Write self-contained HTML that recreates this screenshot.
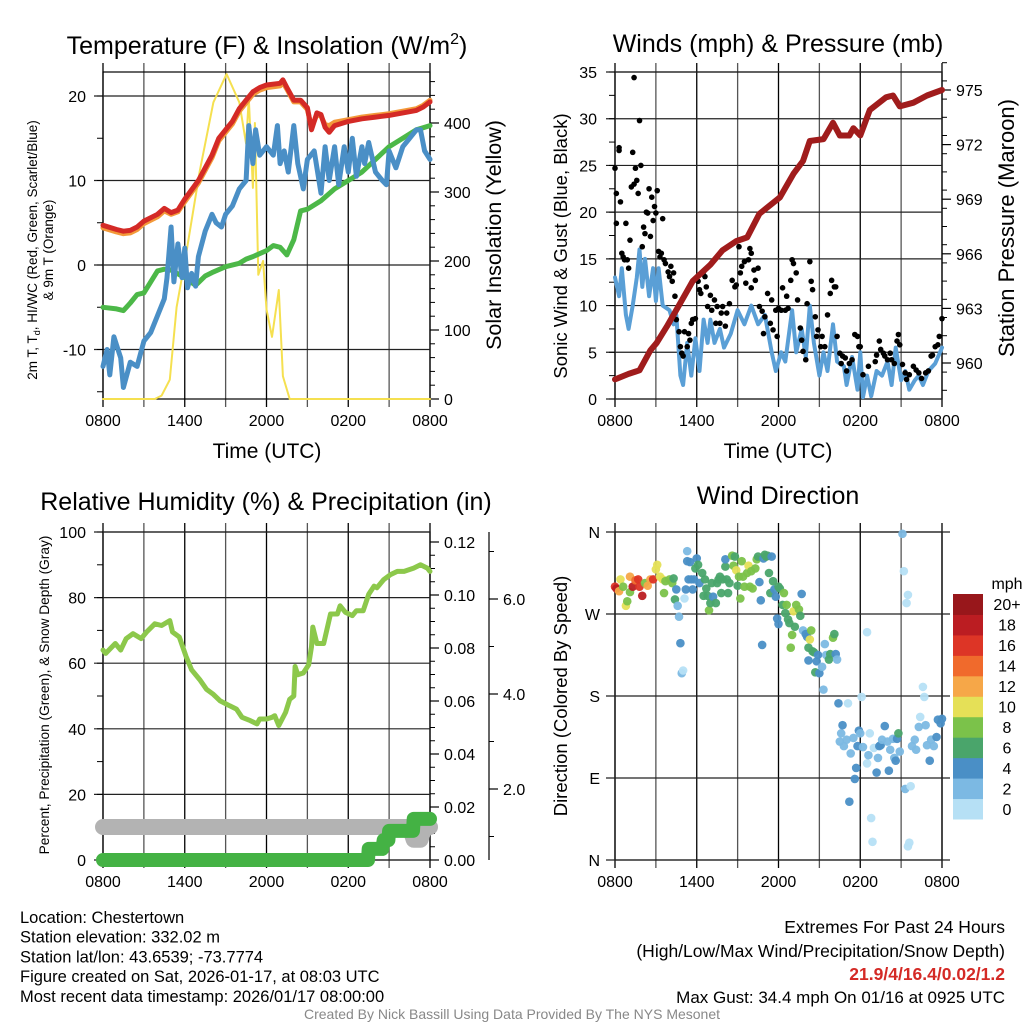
<!DOCTYPE html>
<html><head><meta charset="utf-8"><style>
body{margin:0;background:#fff;}
svg{display:block;font-family:"Liberation Sans",Arial,sans-serif;}
</style></head><body>
<svg id="s" width="1024" height="1024" viewBox="0 0 1024 1024" xmlns="http://www.w3.org/2000/svg"></svg>
<script>
// ===== Panel 1 data =====
const tempT=[0,1,1.5,2,2.5,3,4,4.5,5,5.5,6,7,8,8.5,9,9.5,10,10.5,11,11.5,12,13,13.2,13.5,14,14.5,15,15.3,15.7,16,16.3,16.6,17,18,19,20,21,22,23,23.5,24];
const tempV=[4.7,4.2,4.0,4.1,4.5,5.2,6.0,6.7,6.2,6.5,7.8,10,13,15,16,17,18.5,19.5,20.5,21,21.3,21.5,21.9,21.0,19.5,19.5,18.6,16.0,18.0,17.8,16.3,15.7,16.5,17.0,17.3,17.5,17.7,18.0,18.3,18.7,19.3];
const t9mV=[4.4,3.9,3.7,3.8,4.2,4.9,5.7,6.4,6.0,6.3,7.5,9.7,12.7,14.7,15.7,16.7,18.2,19.2,20.2,20.7,21.0,21.2,21.6,20.8,19.3,19.3,18.4,16.3,17.8,17.6,16.6,16.5,16.9,17.2,17.5,17.7,17.9,18.2,18.5,18.9,19.5];
const dewT=[0,1,1.5,2,2.5,3,3.5,4,4.5,5,6,6.8,7.5,8,9,10,10.5,11,12,12.5,13,13.5,14,14.5,15,16,17,18,19,20,21,22,23,24];
const dewV=[-5,-5.2,-5.4,-4.5,-3.5,-3.3,-2,-0.7,-0.5,-0.6,-1.5,-2.4,-1.3,-0.9,-0.2,0.2,0.7,1.0,1.7,2.3,2.1,1.2,3.0,6.4,6.6,7.6,9,10,11,12.5,14,15,16,16.5];
const wcT=[0,0.3,0.5,0.8,1,1.3,1.5,2,2.5,3,3.5,4,4.5,4.7,5,5.2,5.5,5.8,6,6.2,6.5,6.8,7,7.5,8,8.3,8.7,9,9.5,10,10.5,10.7,11,11.2,11.5,12,12.5,12.8,13,13.3,13.6,14,14.3,14.7,15,15.5,15.8,16,16.3,16.6,17,17.3,17.7,18,18.3,18.6,19,19.2,19.5,20,20.5,20.8,21,21.5,22,22.5,23,23.3,23.6,24];
const wcV=[-12,-10,-13,-8.5,-9.5,-11,-14.5,-11.5,-12,-9,-8,-6,-4,-1.5,4.5,-2,2.5,-1.5,2,-2.7,-1,-2.5,1,4,6,5,4.5,6,7,9,10,16.5,12,16,13,14,13,16.5,12,13.5,11,16.5,12,9,12.5,13.5,10.5,8.5,14,10,14,9.5,14,11,15,10.5,14,12,14.5,11,10,9.5,13.5,11.5,14,15,16,16,13.5,12.5];
const solT=[0,3.8,4.3,4.9,5.4,6.1,7.1,8.1,9.07,10,10.5,10.7,11,11.15,11.4,11.75,12,12.4,12.9,13.2,13.7,24];
const solV=[0,0,5,28,133,210,330,430,471,430,370,436,306,400,180,200,130,90,158,33,0,0];
// ===== Panel 2 data =====
const presT=[0,1,1.8,2.6,3.05,3.8,4.8,5.7,7,7.9,8.9,9.7,10.6,12.1,13.1,13.8,14.3,15.3,16,16.5,17.2,17.5,18,18.7,19.9,20.4,20.9,21.9,22.9,24];
const presV=[959.1,959.4,959.6,960.7,961.1,962,963.3,964.5,965.4,966.2,966.7,966.9,968.2,969.1,970.4,971.1,972.2,972.3,973.2,972.5,972.5,972.9,972.5,973.9,974.6,974.7,974.1,974.3,974.7,975];
const windT=[0,0.3,0.5,0.8,1,1.3,1.6,1.8,2,2.2,2.5,2.8,3,3.2,3.5,4,4.3,4.5,4.8,5,5.3,5.6,5.9,6.2,6.5,6.8,7,7.3,7.7,8,8.5,9,9.5,10,10.5,11,11.5,11.8,12.2,12.5,13,13.3,13.7,14,14.3,14.6,15,15.3,15.6,16,16.3,16.8,17,17.4,17.8,18,18.2,18.5,18.8,19.2,19.6,20,20.3,20.6,21,21.3,21.6,22,22.3,22.6,23,23.5,24];
const windV=[13,11,14,9,7.5,10,13,16,12,15,11,14,10.5,14,10,9.5,8,9,2.5,1.5,6,2.5,6.5,3,8.5,6,8.5,6,7.5,5.5,7,9.5,8,10,8,9,5,3,5,4,9.5,5,7.5,4.5,10,6,2.5,5,3,8,4,3.5,1.5,4.5,1,5,0.2,2.5,0.3,3,2.5,4,1.5,5.5,2,3,1,2,2.5,1.5,3,3.8,5.5];
const gustT=[0,0.1,0.1,0.3,0.3,0.4,0.5,0.6,0.7,0.8,0.9,1.0,1.1,1.2,1.3,1.4,1.4,1.5,1.6,1.7,1.8,1.9,2.0,2.1,2.2,2.3,2.4,2.5,2.6,2.7,2.8,2.9,3.0,3.1,3.2,3.3,3.4,3.5,3.6,3.7,3.9,4.0,4.1,4.2,4.3,4.4,4.5,4.7,4.8,4.9,5.0,5.1,5.3,5.4,5.5,5.6,5.7,5.9,6.1,6.2,6.3,6.5,6.6,6.7,6.8,7.0,7.1,7.3,7.4,7.5,7.7,7.8,7.9,8.1,8.2,8.4,8.6,8.8,8.9,9.1,9.2,9.3,9.5,9.6,9.8,9.9,10.0,10.0,10.2,10.3,10.5,10.6,10.8,10.9,11.0,11.2,11.4,11.5,11.6,11.8,11.9,12.0,12.2,12.3,12.5,12.6,12.7,12.9,13.0,13.1,13.3,13.4,13.6,13.7,13.8,14.0,14.1,14.3,14.4,14.5,14.7,14.8,14.9,15.1,15.2,15.4,15.6,15.8,15.9,16.1,16.2,16.3,16.5,16.6,16.7,16.9,17.0,17.2,17.4,17.6,17.8,17.9,18.0,18.2,18.6,19.1,19.2,19.4,19.5,19.7,19.8,20.0,20.2,20.3,20.5,20.7,20.8,20.9,21.1,21.3,21.4,21.6,21.9,22.1,22.3,22.5,22.8,23.0,23.2,23.3,23.5,23.7,23.8,24.0];
const gustV=[24.7,18.8,22,26.6,26.9,21.1,15.6,15.2,14.9,18.8,14.9,14,17,22.7,26.4,34.4,23,24.7,23.4,22,29.8,25,16.3,18.4,17.7,20,19.9,22.5,17.4,21.6,19.1,20.6,19.9,22.3,15.8,15.2,15.6,19.3,14.9,14.5,13.6,13.1,14.2,12.6,13.5,11,8.5,7.2,5.6,4.9,4.6,7.2,5.6,7,6.3,8.1,8.5,8.6,12.6,11.7,11.3,13.6,13.1,12,9.9,11.1,9.5,10.6,8.1,9.9,8.1,9.2,9.9,7.8,9.2,10.2,12.7,12,12.2,16.3,13.5,14.2,14.7,12.4,14.9,16.1,15.6,11.9,13.8,12.7,14,9.9,9.4,7,8.8,11.3,8.1,10.6,7.4,9.5,6.7,9.7,9.5,11.9,9.5,11,9.7,12.7,14.9,14.5,13.5,10.6,7.6,6.3,5.1,4.2,10.2,14.7,12.6,11.7,8.8,6.7,7.4,5.6,6.7,5.6,9,11.3,12.7,12,12,6.7,4.9,3.8,4.6,4.4,3,3.8,4.2,6.9,6.7,5.6,5.6,2.6,3.5,4,4.7,6.2,5.3,4.9,4.6,4.2,4.9,4.2,3.8,6.2,6.9,5.8,3.7,2.8,2.1,2.6,3.5,3.1,2.8,2.2,2.8,3,4.6,4.7,5.6,5.8,6.7,8.6];
// ===== Panel 3 data =====
const rhT=[0,0.2,0.9,1.3,1.7,2.2,2.8,3.2,3.8,4.3,4.9,5.1,5.6,6.1,6.5,7.1,7.6,8.1,8.6,9.3,9.8,10.2,10.8,11.3,11.5,12.0,12.4,12.6,12.9,13.4,13.7,14.0,14.1,14.3,14.7,15.1,15.3,15.4,15.7,16.2,16.7,17.2,17.4,17.8,18.3,18.6,19.1,19.5,19.9,20.1,20.6,21.1,21.6,22.1,22.8,23.3,23.8,24];
const rhV=[64,63,66,64,67.5,69,67.5,69.5,72,71.5,73,69.5,68,62,58,55,52,50.5,48.5,47,46,43.5,42.5,41.5,43,43,43.5,44,41,45,49,50,59,56.5,57,59.5,65,71,66,66,75,75,77.5,75.5,74.5,76,76,81,83.5,83,85.5,87,88,88,89,90,89,88];
const precT=[0,19.45,19.5,20.5,20.6,20.95,21.0,22.75,22.8,24];
const precV=[0,0,0.0042,0.0042,0.0075,0.0075,0.011,0.011,0.0155,0.0155];
const snowT=[0,22.5,22.8,23.3,23.6,24];
const snowV=[1.2,1.2,0.93,0.93,1.2,1.2];
// ===== Panel 4 data =====
const dirT=[0,0.1,0.3,0.4,0.6,0.8,0.9,1.1,1.1,1.3,1.5,1.7,1.8,2.0,2.2,2.4,2.6,2.8,3.0,3.1,3.3,3.5,3.6,3.7,4.0,4.2,4.3,4.4,4.5,4.6,4.7,4.8,4.9,5.0,5.1,5.2,5.3,5.3,5.4,5.5,5.6,5.7,5.8,5.9,6.0,6.1,6.2,6.4,6.5,6.6,6.7,6.8,6.9,7.0,7.1,7.2,7.4,7.5,7.6,7.7,7.8,7.9,8.1,8.1,8.2,8.3,8.4,8.6,8.7,8.8,8.9,9.0,9.1,9.2,9.3,9.4,9.5,9.7,9.8,9.9,10.0,10.1,10.3,10.4,10.5,10.6,10.7,10.8,10.9,11.0,11.1,11.2,11.3,11.4,11.5,11.6,11.7,11.8,11.9,12.0,12.0,12.1,12.3,12.4,12.5,12.6,12.7,12.8,12.9,13.0,13.1,13.2,13.3,13.5,13.6,13.7,13.8,14.0,14.1,14.2,14.2,14.3,14.4,14.5,14.6,14.7,14.8,14.9,15.0,15.2,15.3,15.4,15.5,15.7,15.8,16.0,16.1,16.2,16.3,16.4,16.5,16.6,16.7,16.8,17.0,17.1,17.2,17.3,17.5,17.6,17.7,17.8,17.9,18.0,18.1,18.2,18.5,18.5,18.6,18.7,18.8,18.9,19.0,19.2,19.3,19.4,19.5,19.6,19.8,20.0,20.1,20.2,20.4,20.5,20.6,20.7,20.8,20.9,21.1,21.2,21.3,21.4,21.5,21.5,21.6,21.7,21.8,22.0,22.1,22.3,22.4,22.6,22.7,22.8,22.9,23.1,23.2,23.4,23.6,23.7,23.9,24.0];
const dirV=[300,298,295,308,300,279,284,294,311,300,307,308,300,290,304,301,308,308,319,324,311,308,293,306,308,304,309,286,297,279,267,238,205,208,287,297,339,328,308,327,308,297,308,320,331,324,304,315,290,308,298,290,274,282,304,289,282,304,308,311,293,308,322,330,308,293,304,334,323,333,318,301,311,287,328,311,300,315,323,300,317,298,320,330,333,305,285,236,331,335,333,334,315,293,333,306,297,289,265,259,300,298,280,293,271,280,264,260,233,247,273,256,280,275,268,292,252,248,245,233,219,242,252,229,228,206,218,225,205,212,187,237,225,220,226,244,248,226,220,172,130,139,148,125,132,172,64,117,134,89,101,125,142,139,179,124,250,106,115,139,46,20,123,96,112,125,126,132,147,130,98,121,133,112,109,133,139,119,358,317,78,282,291,15,19,81,125,132,121,146,157,190,179,148,126,109,132,125,135,154,150,155];
const dirS=[16,18,13,10,8,10,8,8,12,18,15,16,16,18,8,13,12,16,10,10,10,10,8,8,8,8,6,6,4,2,2,4,2,0,0,4,2,4,4,4,4,4,4,6,4,6,4,6,6,6,6,6,8,6,6,4,6,6,6,6,6,6,6,4,6,6,6,8,8,6,10,6,8,8,8,8,8,8,10,8,8,8,8,8,6,4,4,4,4,6,6,6,6,6,4,6,4,4,4,4,6,6,6,8,6,8,6,6,8,8,10,6,8,8,6,4,2,4,4,6,4,10,8,6,6,6,4,4,4,2,2,2,2,6,6,8,6,4,2,4,2,2,4,2,2,0,4,2,2,4,4,4,4,2,0,2,0,0,2,0,0,0,0,4,2,4,4,2,4,2,4,2,2,2,4,4,6,2,2,0,2,0,0,0,0,0,2,2,2,2,0,0,0,2,2,4,2,2,4,4,4,4];
const cbLabels=["0","2","4","6","8","10","12","14","16","18","20+"];
const cbColors=["#b6e0f5","#7cb9e3","#4a8fc6","#4aa56b","#7bc24a","#e5e057","#f6a748","#f06a2c","#dd3526","#bb1d22","#98171b"];
const timeLabels=["0800","1400","2000","0200","0800"];
const tempTicks=[20,10,0,-10];
const solTicks=[0,100,200,300,400];
const windTicks=[0,5,10,15,20,25,30,35];
const presTicks=[960,963,966,969,972,975];
const rhTicks=[0,20,40,60,80,100];
const precTicks=[0,0.02,0.04,0.06,0.08,0.10,0.12];
const snowTicks=[2,4,6];
const dirTicks=[0,90,180,270,360];
const dirNames=["N","E","S","W","N"];

const NS="http://www.w3.org/2000/svg";
const svg=document.getElementById('s');
const TK=16;
function mk(tag,attrs,parent){const e=document.createElementNS(NS,tag);for(const k in attrs)e.setAttribute(k,attrs[k]);(parent||svg).appendChild(e);return e;}
function txt(x,y,s,size,anchor,extra){const e=mk('text',Object.assign({x:x,y:y,'font-size':size,'text-anchor':anchor||'middle',fill:'#000'},extra||{}));e.textContent=s;return e;}

const xL=t=>103+t*327/24, xR=t=>615+t*327/24;
const yT=v=>265-v*8.45, ySol=v=>399-v*0.69;
const yW=v=>399-v*327/35, yP=p=>90+(975-p)*18.2;
const yRH=v=>860-v*3.28, yPr=v=>860-v*2650, ySn=v=>884-v*47.5;
const yD=d=>860-d*328/360;

function frame(x0,y0,x1,y1,name,xf){
  const g=mk('g',{});
  
  
  for(let h=0;h<=24;h+=3){const x=xf(h);
    const l=mk('line',{x1:x,x2:x,y1:y0-9,y2:y1+8,stroke:(h%6==0)?'#000':'#555','stroke-width':1.3},g);
    
    }
  timeLabels.forEach((s,i)=>{const t=txt(xf(i*6),y1+27,s,TK);
    
    });
  mk('rect',{x:x0,y:y0,width:x1-x0,height:y1-y0,fill:'none',stroke:'#000','stroke-width':1.2},g);
  return g;
}
function hgrid(vals,yf,x0,x1,labels,lx,name){
  vals.forEach((v,i)=>{const y=yf(v);
    const l=mk('line',{x1:x0-9,x2:x1,y1:y,y2:y,stroke:'#222','stroke-width':1.2});
    
    
    const t=txt(lx,y+6,labels?labels[i]:String(v),TK,'end');
    
    });
}
function rightAxis(vals,yf,x,fmt,name,minor){
  minor.forEach(v=>{mk('line',{x1:x,x2:x+5,y1:yf(v),y2:yf(v),stroke:'#000','stroke-width':1});});
  vals.forEach(v=>{const y=yf(v);mk('line',{x1:x,x2:x+9,y1:y,y2:y,stroke:'#000','stroke-width':1.2});
    const t=txt(x+14,y+6,fmt(v),TK,'start');
    
    });
}
function path(ts,vs,xf,yf,color,w,name){
  let d='';ts.forEach((t,i)=>{d+=(i?'L':'M')+xf(t).toFixed(1)+','+yf(vs[i]).toFixed(1);});
  const p=mk('path',{d:d,fill:'none',stroke:color,'stroke-width':w,'stroke-linejoin':'round','stroke-linecap':'round'});
  
  
  return p;
}
function range(a,b,s){const r=[];for(let v=a;v<=b+1e-9;v+=s)r.push(+v.toFixed(4));return r;}

// ===== Panel 1 =====
const t1=mk('text',{x:267,y:54,'font-size':25,'text-anchor':'middle'});t1.innerHTML='Temperature (F) &amp; Insolation (W/m<tspan font-size="16" dy="-10">2</tspan><tspan dy="10">)</tspan>';


frame(103,72,430,399,'temperature-plot-frame',xL);
hgrid(tempTicks,yT,103,430,null,86,'temperature-tick-label');
range(-15,20,5).forEach(v=>mk('line',{x1:97,x2:103,y1:yT(v),y2:yT(v),stroke:'#000'}));
rightAxis(solTicks,ySol,430,v=>String(v),'solar-tick-label',range(0,460,20));
path(solT,solV,xL,ySol,'#f5e050',2,'solar-insolation-line');
path(dewT,dewV,xL,yT,'#4cb848',5,'dewpoint-line');
path(wcT,wcV,xL,yT,'#4a8fc6',5,'wind-chill-line');
path(tempT,t9mV,xL,yT,'#f39a3a',5,'temp-9m-line');
path(tempT,tempV,xL,yT,'#d42a26',5,'temp-2m-line');
const yl1=mk('text',{x:0,y:0,'font-size':13.5,'text-anchor':'middle',transform:'translate(37,250) rotate(-90)'});yl1.innerHTML='2m T, T<tspan font-size="9" dy="3">d</tspan><tspan dy="-3">, HI/WC (Red, Green, Scarlet/Blue)</tspan>';


const yl1b=txt(0,0,'& 9m T (Orange)',13.5,'middle',{transform:'translate(53,250) rotate(-90)'});


const yr1=txt(0,0,'Solar Insolation (Yellow)',21.5,'middle',{transform:'translate(501,235) rotate(-90)'});


const xt1=txt(267,458,'Time (UTC)',21);



// ===== Panel 2 =====
const t2=txt(778,52,'Winds (mph) & Pressure (mb)',25);


frame(615,72,942,399,'winds-plot-frame',xR);
hgrid(windTicks,yW,615,942,null,597,'wind-tick-label');
range(0,35,2.5).forEach(v=>mk('line',{x1:609,x2:615,y1:yW(v),y2:yW(v),stroke:'#000'}));
rightAxis(presTicks,yP,942,v=>String(v),'pressure-tick-label',range(958.5,976.5,1));
path(windT,windV,xR,yW,'#5a9fd6',4,'sonic-wind-line');
gustT.forEach((t,i)=>{const c=mk('circle',{cx:xR(t),cy:yW(gustV[i]),r:2.8,fill:'#000'});
  
  });
path(presT,presV,xR,yP,'#a01c1c',6,'pressure-line');
const yl2=txt(0,0,'Sonic Wind & Gust (Blue, Black)',18.5,'middle',{transform:'translate(567,246) rotate(-90)'});


const yr2=txt(0,0,'Station Pressure (Maroon)',22,'middle',{transform:'translate(1014,228) rotate(-90)'});


const xt2=txt(778,458,'Time (UTC)',21);



// ===== Panel 3 =====
const t3=txt(266,510,'Relative Humidity (%) & Precipitation (in)',25);


frame(103,532,430,860,'humidity-plot-frame',xL);
hgrid(rhTicks,yRH,103,430,null,86,'humidity-tick-label');
range(0,100,10).forEach(v=>mk('line',{x1:97,x2:103,y1:yRH(v),y2:yRH(v),stroke:'#000'}));
rightAxis(precTicks,yPr,430,v=>v.toFixed(2),'precip-tick-label',range(0,0.124,0.005));
mk('line',{x1:489,x2:489,y1:532,y2:860,stroke:'#000','stroke-width':1.2});
range(1,7,1).forEach(v=>mk('line',{x1:489,x2:494,y1:ySn(v),y2:ySn(v),stroke:'#000'}));
snowTicks.forEach(v=>{mk('line',{x1:489,x2:498,y1:ySn(v),y2:ySn(v),stroke:'#000','stroke-width':1.2});
  const t=txt(503,ySn(v)+6,v.toFixed(1),TK,'start');
  
  });
path(snowT,snowV,xL,ySn,'#b3b3b3',16,'snow-depth-line');
path(rhT,rhV,xL,yRH,'#8cc84b',5,'relative-humidity-line');
path(precT,precV,xL,yPr,'#44b244',14,'precipitation-line');
const yl3=txt(0,0,'Percent, Precipitation (Green), & Snow Depth (Gray)',13.7,'middle',{transform:'translate(49,695) rotate(-90)'});



// ===== Panel 4 =====
const t4=txt(778,504,'Wind Direction',25);


frame(615,532,942,860,'wind-direction-plot-frame',xR);
hgrid(dirTicks,yD,615,950,dirNames,600,'direction-tick-label');
dirT.forEach((t,i)=>{const c=mk('circle',{cx:xR(t),cy:yD(dirV[i]),r:4.3,fill:cbColors[Math.min(10,Math.floor(dirS[i]/2))],'fill-opacity':0.95});
  
  });
const yl4=txt(0,0,'Direction (Colored By Speed)',18.5,'middle',{transform:'translate(567,696) rotate(-90)'});


const cbt=txt(1007,589,'mph',16);


cbColors.forEach((c,i)=>{const h=225/11;const y=819-(i+1)*h;
  const r=mk('rect',{x:953,y:y,width:30,height:h+0.5,fill:c});
  
  
  const t=txt(1007,y+h/2+6,cbLabels[i],16);
  
  });

// ===== Footer =====
["Location: Chestertown","Station elevation: 332.02 m","Station lat/lon: 43.6539; -73.7774","Figure created on Sat, 2026-01-17, at 08:03 UTC","Most recent data timestamp: 2026/01/17 08:00:00"].forEach((s,i)=>{
  const t=txt(20,923+i*19.7,s,16.5,'start');
  
  });
const e1=txt(1005,933,'Extremes For Past 24 Hours',17.5,'end');


const e2=txt(1005,957,'(High/Low/Max Wind/Precipitation/Snow Depth)',17.5,'end');


const e3=txt(1005,980,'21.9/4/16.4/0.02/1.2',17.5,'end',{fill:'#d42a26','font-weight':'bold'});


const e4=txt(1005,1003,'Max Gust: 34.4 mph On 01/16 at 0925 UTC',17,'end');


const cr=txt(512,1019,'Created By Nick Bassill Using Data Provided By The NYS Mesonet',14,'middle',{fill:'#888'});


</script>
</body></html>
